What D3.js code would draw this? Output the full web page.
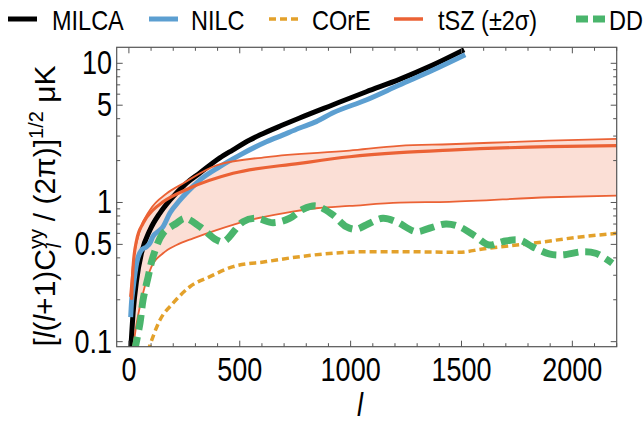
<!DOCTYPE html>
<html>
<head>
<meta charset="utf-8">
<script src="https://cdn.jsdelivr.net/npm/d3@7"></script>
<style>
  body { margin: 0; background: #fff; }
  text { font-family: "Liberation Sans", Arial, sans-serif; }
</style>
</head>
<body>
<svg id="chart"></svg>
<script>
// Data
const milcaL = [7, 19, 35, 57, 95, 140, 185, 260, 320, 378, 410, 468, 545, 590, 693, 770, 918, 1071, 1220, 1370, 1512];
const milcaV = [0.08, 0.161, 0.278, 0.434, 0.634, 0.84, 1.04, 1.38, 1.63, 1.92, 2.09, 2.38, 2.81, 3.05, 3.60, 4.05, 5.02, 6.25, 7.67, 9.7, 12.5];

const nilcL = [8, 12, 18, 35, 57, 80, 95, 108, 140, 153, 185, 230, 288, 320, 410, 500, 620, 693, 770, 845, 918, 1070, 1220, 1370, 1517];
const nilcV = [0.15, 0.194, 0.235, 0.367, 0.456, 0.481, 0.512, 0.568, 0.634, 0.667, 0.84, 1.04, 1.30, 1.45, 1.81, 2.19, 2.73, 3.05, 3.43, 3.81, 4.39, 5.45, 6.98, 8.9, 11.5];

const coreL = [85, 140, 199, 275, 365, 470, 620, 770, 919, 1070, 1220, 1490, 1595, 1820, 2045, 2200];
const coreV = [0.085, 0.143, 0.189, 0.248, 0.293, 0.346, 0.376, 0.408, 0.432, 0.443, 0.443, 0.439, 0.463, 0.509, 0.568, 0.60];

const tszL = [12, 19, 35, 64, 109, 154, 275, 470, 770, 995, 1220, 1445, 1895, 2200];
const tszV = [0.20, 0.346, 0.538, 0.709, 0.883, 1.01, 1.27, 1.62, 1.91, 2.13, 2.28, 2.38, 2.52, 2.56];

const tszHiL = [5, 19, 50, 95, 170, 244, 395, 620, 995, 1220, 1445, 1895, 2200];
const tszHiV = [0.21, 0.366, 0.634, 0.883, 1.16, 1.37, 1.85, 2.12, 2.36, 2.55, 2.62, 2.78, 2.86];

const tszLoL = [12, 19, 35, 64, 102, 154, 215, 290, 395, 545, 694, 845, 995, 1220, 1445, 1895, 2200];
const tszLoV = [0.08, 0.092, 0.136, 0.224, 0.346, 0.432, 0.495, 0.553, 0.634, 0.748, 0.836, 0.909, 0.944, 0.997, 1.01, 1.09, 1.12];

const ddL = [25, 50, 64, 87, 109, 154, 215, 252, 320, 395, 428, 515, 575, 650, 725, 785, 845, 920, 980, 1025, 1070, 1145, 1205, 1295, 1355, 1430, 1490, 1565, 1625, 1685, 1760, 1820, 1895, 1955, 2045, 2105, 2180];
const ddV = [0.085, 0.136, 0.20, 0.293, 0.408, 0.601, 0.709, 0.770, 0.670, 0.538, 0.523, 0.728, 0.770, 0.716, 0.770, 0.894, 0.944, 0.813, 0.670, 0.642, 0.689, 0.770, 0.728, 0.617, 0.653, 0.701, 0.670, 0.568, 0.495, 0.523, 0.538, 0.481, 0.427, 0.420, 0.443, 0.432, 0.366];

const xTicks = [0, 500, 1000, 1500, 2000];
const yTicks = [0.1, 0.5, 1, 5, 10];
const yTickLabels = ["0.1", "0.5", "1", "5", "10"];
const legendNames = ["MILCA", "NILC", "COrE", "tSZ (\u00b12\u03c3)", "DD"];

// Chart attributes
const W = 644, H = 422;
const frame = { left: 116.7, right: 616.7, top: 47.3, bottom: 346.7 };
const col = {
  milca: "#000000", nilc: "#5c9fd1", core: "#e3a12b",
  tsz: "#eb6235", fill: "#fbdfd6", dd: "#4ab56c", axis: "#555555"
};

const svg = d3.select("#chart").attr("width", W).attr("height", H);

const x = d3.scaleLinear().domain([-55, 2200]).range([frame.left, frame.right]);
const y = d3.scaleLog().domain([0.092, 13.03]).range([frame.bottom, frame.top]);

svg.append("clipPath").attr("id", "clip")
  .append("rect")
  .attr("x", frame.left).attr("y", frame.top)
  .attr("width", frame.right - frame.left).attr("height", frame.bottom - frame.top);

const plot = svg.append("g").attr("clip-path", "url(#clip)");

const pts = (L, V) => L.map((l, i) => [l, V[i]]);
const line = d3.line().x(d => x(d[0])).y(d => y(d[1])).curve(d3.curveMonotoneX);
const wavy = d3.line().x(d => x(d[0])).y(d => y(d[1])).curve(d3.curveCatmullRom.alpha(0.5));

// tSZ band (upper and lower bounds share a common l grid for the fill)
const bandL = d3.merge([tszHiL, tszLoL]).filter((v, i, a) => a.indexOf(v) === i).sort((a, b) => a - b);
const interpLog = (L, V) => l => {
  if (l <= L[0]) return V[0];
  if (l >= L[L.length - 1]) return V[V.length - 1];
  const i = d3.bisectRight(L, l) - 1;
  const t = (l - L[i]) / (L[i + 1] - L[i]);
  return Math.exp(Math.log(V[i]) * (1 - t) + Math.log(V[i + 1]) * t);
};
const hiAt = interpLog(tszHiL, tszHiV), loAt = interpLog(tszLoL, tszLoV);
const band = bandL.filter(l => l >= 12).map(l => [l, loAt(l), hiAt(l)]);

plot.append("path")
  .attr("d", d3.area().x(d => x(d[0])).y0(d => y(d[1])).y1(d => y(d[2])).curve(d3.curveMonotoneX)(band))
  .attr("fill", col.fill);

// MILCA and NILC
plot.append("path").attr("d", line(pts(milcaL, milcaV)))
  .attr("fill", "none").attr("stroke", col.milca).attr("stroke-width", 5);
plot.append("path").attr("d", line(pts(nilcL, nilcV)))
  .attr("fill", "none").attr("stroke", col.nilc).attr("stroke-width", 5);

// COrE dotted
plot.append("path").attr("d", line(pts(coreL, coreV)))
  .attr("fill", "none").attr("stroke", col.core).attr("stroke-width", 3.5)
  .attr("stroke-dasharray", "7,4");

// tSZ bounds and central
plot.append("path").attr("d", line(pts(tszHiL, tszHiV)))
  .attr("fill", "none").attr("stroke", col.tsz).attr("stroke-width", 1.8);
plot.append("path").attr("d", line(pts(tszLoL, tszLoV)))
  .attr("fill", "none").attr("stroke", col.tsz).attr("stroke-width", 1.8);
plot.append("path").attr("d", line(pts(tszL, tszV)))
  .attr("fill", "none").attr("stroke", col.tsz).attr("stroke-width", 3.2);

// DD dashed
plot.append("path").attr("d", wavy(pts(ddL, ddV)))
  .attr("fill", "none").attr("stroke", col.dd).attr("stroke-width", 7)
  .attr("stroke-dasharray", "15,7");

// Frame
svg.append("rect")
  .attr("x", frame.left).attr("y", frame.top)
  .attr("width", frame.right - frame.left).attr("height", frame.bottom - frame.top)
  .attr("fill", "none").attr("stroke", col.axis).attr("stroke-width", 1.2);

// Ticks, all pointing inwards, mirrored on top/right
const xMinor = d3.range(0, 2201, 100).filter(v => v % 500 !== 0);
const yMinor = [0.2, 0.3, 0.4, 0.6, 0.7, 0.8, 0.9, 2, 3, 4, 6, 7, 8, 9];
const tickG = svg.append("g").attr("stroke", col.axis).attr("stroke-width", 1);
[[frame.bottom, -1], [frame.top, 1]].forEach(([yy, s]) => {
  xTicks.forEach(v => tickG.append("line").attr("x1", x(v)).attr("x2", x(v)).attr("y1", yy).attr("y2", yy + s * 6));
  xMinor.forEach(v => tickG.append("line").attr("x1", x(v)).attr("x2", x(v)).attr("y1", yy).attr("y2", yy + s * 3.5));
});
[[frame.left, 1], [frame.right, -1]].forEach(([xx, s]) => {
  yTicks.forEach(v => tickG.append("line").attr("y1", y(v)).attr("y2", y(v)).attr("x1", xx).attr("x2", xx + s * 6));
  yMinor.forEach(v => tickG.append("line").attr("y1", y(v)).attr("y2", y(v)).attr("x1", xx).attr("x2", xx + s * 3.5));
});

// Tick labels (the reference text is a bit tall, so stretch it)
const stretch = 1.2;
xTicks.forEach(v => {
  svg.append("text")
    .attr("transform", `translate(${x(v)},381) scale(1,${stretch})`)
    .attr("text-anchor", "middle").attr("font-size", 27)
    .text(v);
});
yTicks.forEach((v, i) => {
  svg.append("text")
    .attr("transform", `translate(112,${y(v) + 11}) scale(1,${stretch})`)
    .attr("text-anchor", "end").attr("font-size", 27)
    .text(yTickLabels[i]);
});

// Axis titles
svg.append("text")
  .attr("transform", `translate(360,416) scale(1,${stretch})`)
  .attr("text-anchor", "middle").attr("font-size", 27).attr("font-style", "italic")
  .text("l");

const yLab = svg.append("text")
  .attr("transform", "translate(55,206) rotate(-90)")
  .attr("text-anchor", "middle").attr("font-size", 30);
yLab.append("tspan").text("[");
yLab.append("tspan").attr("font-style", "italic").text("l");
yLab.append("tspan").text("(");
yLab.append("tspan").attr("font-style", "italic").text("l");
yLab.append("tspan").text("+1)C");
yLab.append("tspan").attr("font-size", 20).attr("dy", -12).text("yy");
yLab.append("tspan").attr("font-size", 20).attr("font-style", "italic").attr("dx", -19).attr("dy", 18).text("l");
yLab.append("tspan").attr("dx", 14).attr("dy", -6).text(" / (2\u03c0)]");
yLab.append("tspan").attr("font-size", 20).attr("dy", -12).text("1/2");
yLab.append("tspan").attr("dy", 12).text(" \u03bcK");

// Legend
const legendX = [8, 149, 269, 394, 576];
const legendTextX = [52, 191, 312, 438, 609];
const legendStyle = [
  { c: col.milca, w: 5, d: null },
  { c: col.nilc, w: 5, d: null },
  { c: col.core, w: 3.5, d: "7,4" },
  { c: col.tsz, w: 3.5, d: null },
  { c: col.dd, w: 7, d: "12,5" }
];
legendNames.forEach((name, i) => {
  const st = legendStyle[i];
  svg.append("line")
    .attr("x1", legendX[i]).attr("x2", legendX[i] + 29)
    .attr("y1", 19).attr("y2", 19)
    .attr("stroke", st.c).attr("stroke-width", st.w)
    .attr("stroke-dasharray", st.d);
  svg.append("text")
    .attr("transform", `translate(${legendTextX[i]},30) scale(1,1.2)`)
    .attr("font-size", 23.5)
    .text(name);
});
</script>
</body>
</html>
